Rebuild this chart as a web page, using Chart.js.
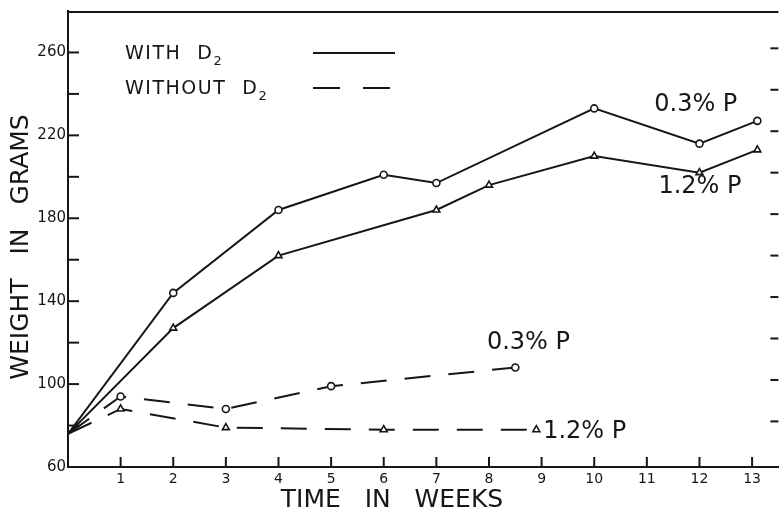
<!DOCTYPE html>
<html>
<head>
<meta charset="utf-8">
<title>Weight in grams</title>
<script src="https://cdn.jsdelivr.net/npm/chart.js@4.4.0/dist/chart.umd.min.js"></script>
<style>
  html, body { margin: 0; padding: 0; background: #fff; }
  #wrap { width: 784px; height: 512px; }
</style>
</head>
<body>
<div id="wrap"><canvas id="growth" width="784" height="512"></canvas></div>
<script>
// weeks / weight (grams)
var weeksWith03 = [0, 2, 4, 6, 7, 10, 12, 13.1];
var withD2_03   = [76, 144, 184, 201, 197, 233, 216, 227];
var weeksWith12 = [0, 2, 4, 7, 8, 10, 12, 13.1];
var withD2_12   = [76, 127, 162, 184, 196, 210, 202, 213];
var weeksWithout03 = [0, 1, 3, 5, 8.5];
var withoutD2_03   = [76, 94, 88, 99, 108];
var weeksWithout12 = [0, 1, 3, 6, 8.9];
var withoutD2_12   = [76, 88, 79, 78, 78];

var weekTicks = [1, 2, 3, 4, 5, 6, 7, 8, 9, 10, 11, 12, 13];
var weightLabels = [60, 100, 140, 180, 220, 260];
var weightMinor = [80, 100, 120, 140, 160, 180, 200, 220, 240, 260];
var rightTicks = [82, 102, 122, 142, 162, 182, 202, 222, 242, 262];

// curve labels: [text, week, grams, align]
var curveLabels = [
  ['0.3% P', 11.93, 235, 'center'],
  ['1.2% P', 12.01, 195, 'center'],
  ['0.3% P', 8.75, 120, 'center'],
  ['1.2% P', 9.03, 77, 'left']
];

var ink = '#161616';
var FONT = "'DejaVu Sans', 'Liberation Sans', sans-serif";

function pts(xs, ys) {
  var out = [];
  for (var i = 0; i < xs.length; i++) out.push({x: xs[i], y: ys[i]});
  return out;
}
// no marker where all four curves start
function radii(n, r) {
  var out = [0];
  for (var i = 1; i < n; i++) out.push(r);
  return out;
}
function series(xs, ys, style, dash) {
  return {
    data: pts(xs, ys),
    borderColor: ink,
    borderWidth: 2,
    borderDash: dash,
    backgroundColor: '#fff',
    pointStyle: style,
    pointRadius: radii(xs.length, style == 'triangle' ? 4 : 3.5),
    pointBorderColor: ink,
    pointBackgroundColor: '#fff',
    pointBorderWidth: 1.6,
    tension: 0,
    fill: false
  };
}

function line(ctx, x1, y1, x2, y2) {
  ctx.beginPath();
  ctx.moveTo(x1, y1);
  ctx.lineTo(x2, y2);
  ctx.stroke();
}

var paper = {
  id: 'paper',
  beforeDraw: function (chart) {
    var ctx = chart.ctx;
    ctx.save();
    ctx.fillStyle = '#fff';
    ctx.fillRect(0, 0, chart.width, chart.height);
    ctx.restore();
  },
  afterDraw: function (chart) {
    var ctx = chart.ctx, a = chart.chartArea;
    var xs = chart.scales.x, ys = chart.scales.y;
    ctx.save();
    ctx.strokeStyle = ink;
    ctx.fillStyle = ink;
    ctx.lineWidth = 2;

    // frame top
    line(ctx, a.left, a.top + 1, a.right, a.top + 1);

    // tick marks pointing into the plot
    weightMinor.forEach(function (v) {
      var py = ys.getPixelForValue(v);
      line(ctx, a.left, py, a.left + 11, py);
    });
    rightTicks.forEach(function (v) {
      var py = ys.getPixelForValue(v);
      line(ctx, a.right - 8, py, a.right, py);
    });
    weekTicks.forEach(function (w) {
      var px = xs.getPixelForValue(w);
      line(ctx, px, a.bottom, px, a.bottom - 10);
    });

    // axis titles
    ctx.font = '25px ' + FONT;
    ctx.textAlign = 'center';
    ctx.textBaseline = 'middle';
    ctx.fillText('TIME   IN   WEEKS', 392, 500);
    ctx.save();
    ctx.translate(21, 247);
    ctx.rotate(-Math.PI / 2);
    ctx.fillText('WEIGHT   IN   GRAMS', 0, 0);
    ctx.restore();

    // key
    ctx.textAlign = 'left';
    ctx.textBaseline = 'alphabetic';
    ctx.letterSpacing = '1.5px';
    var keys = [['WITH', 59, []], ['WITHOUT', 94, [27, 23]]];
    keys.forEach(function (k) {
      ctx.font = '19px ' + FONT;
      ctx.fillText(k[0], 125, k[1]);
      var dx = 125 + ctx.measureText(k[0]).width + 16;
      ctx.fillText('D', dx, k[1]);
      var sx = dx + ctx.measureText('D').width;
      ctx.font = '13px ' + FONT;
      ctx.fillText('2', sx, k[1] + 6);
      ctx.setLineDash(k[2]);
      line(ctx, 313, k[1] - 6, 395, k[1] - 6);
      ctx.setLineDash([]);
    });
    ctx.letterSpacing = '0px';

    // curve labels
    ctx.font = '24px ' + FONT;
    ctx.textBaseline = 'middle';
    curveLabels.forEach(function (c) {
      ctx.textAlign = c[3];
      ctx.fillText(c[0], xs.getPixelForValue(c[1]), ys.getPixelForValue(c[2]));
    });
    ctx.restore();
  }
};

new Chart(document.getElementById('growth'), {
  type: 'line',
  data: {
    datasets: [
      series(weeksWith03, withD2_03, 'circle', []),
      series(weeksWith12, withD2_12, 'triangle', []),
      series(weeksWithout03, withoutD2_03, 'circle', [26, 18]),
      series(weeksWithout12, withoutD2_12, 'triangle', [26, 18])
    ]
  },
  options: {
    responsive: false,
    devicePixelRatio: 1,
    animation: false,
    events: [],
    layout: { padding: { top: 9, right: 0, bottom: 0, left: 0 } },
    plugins: { legend: { display: false }, tooltip: { enabled: false } },
    scales: {
      x: {
        type: 'linear',
        min: 0,
        max: 13.5,
        afterFit: function (s) { s.height = 45; },
        grid: { display: false, drawTicks: false },
        border: { display: true, color: ink, width: 2 },
        ticks: {
          stepSize: 1,
          includeBounds: false,
          padding: 4,
          color: ink,
          font: { family: FONT, size: 14 },
          autoSkip: false,
          maxRotation: 0,
          callback: function (v) { return weekTicks.indexOf(v) >= 0 ? String(v) : ''; }
        }
      },
      y: {
        type: 'linear',
        min: 60,
        max: 280,
        afterFit: function (s) { s.width = 68; },
        grid: { display: false, drawTicks: false },
        border: { display: true, color: ink, width: 2 },
        ticks: {
          stepSize: 20,
          padding: 2,
          color: ink,
          font: { family: FONT, size: 15 },
          callback: function (v) { return weightLabels.indexOf(v) >= 0 ? String(v) : ''; }
        }
      }
    }
  },
  plugins: [paper]
});
</script>
</body>
</html>
